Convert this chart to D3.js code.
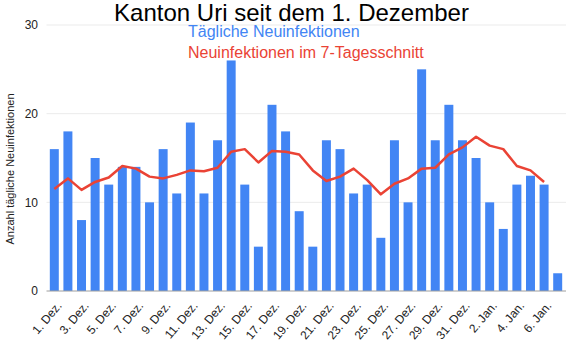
<!DOCTYPE html>
<html>
<head>
<meta charset="utf-8">
<script src="https://cdn.jsdelivr.net/npm/d3@7"></script>
<style>
  html, body { margin: 0; padding: 0; background: #fff; }
  svg { display: block; font-family: "Liberation Sans", Arial, sans-serif; }
</style>
</head>
<body>
<svg id="chart" width="582" height="360"></svg>
<script>
// ---- Data ----
const categories = [
  "1. Dez.","2. Dez.","3. Dez.","4. Dez.","5. Dez.","6. Dez.","7. Dez.","8. Dez.","9. Dez.","10. Dez.",
  "11. Dez.","12. Dez.","13. Dez.","14. Dez.","15. Dez.","16. Dez.","17. Dez.","18. Dez.","19. Dez.","20. Dez.",
  "21. Dez.","22. Dez.","23. Dez.","24. Dez.","25. Dez.","26. Dez.","27. Dez.","28. Dez.","29. Dez.","30. Dez.",
  "31. Dez.","1. Jan.","2. Jan.","3. Jan.","4. Jan.","5. Jan.","6. Jan.","7. Jan."
];
const dailyCases = [
  16, 18, 8, 15, 12, 14, 14, 10, 16, 11,
  19, 11, 17, 26, 12, 5, 21, 18, 9, 5,
  17, 16, 11, 12, 6, 17, 10, 25, 17, 21,
  17, 15, 10, 7, 12, 13, 12, 2
];
const sevenDayAvg = [
  11.5, 12.7, 11.4, 12.3, 12.8, 14.1, 13.8, 12.9, 12.7, 13.1,
  13.6, 13.5, 13.9, 15.7, 16.0, 14.5, 15.8, 15.7, 15.4, 13.6,
  12.4, 12.9, 13.8, 12.5, 10.9, 12.1, 12.7, 13.8, 13.9, 15.4,
  16.2, 17.4, 16.4, 16.0, 14.1, 13.6, 12.3, null
];
const yTicks = [0, 10, 20, 30];
const xTickLabels = categories.filter((d, i) => i % 2 === 0);

const titleText = "Kanton Uri seit dem 1. Dezember";
const legendBars = "Tägliche Neuinfektionen";
const legendLine = "Neuinfektionen im 7-Tagesschnitt";
const yAxisTitle = "Anzahl tägliche Neuinfektionen";

// ---- Layout ----
const svg = d3.select("#chart");
const blue = "#4285F4", red = "#EA4335";
const plotLeft = 46.5, plotRight = 566;

const x = d3.scaleBand().domain(categories).range([47.5, 564.5]).paddingInner(0.34).paddingOuter(0.17);
const y = d3.scaleLinear().domain([0, 30]).range([291, 25]);

// gridlines
svg.append("g").selectAll("line").data(yTicks.filter(d => d !== 0)).join("line")
  .attr("x1", plotLeft).attr("x2", plotRight)
  .attr("y1", d => y(d)).attr("y2", d => y(d))
  .attr("stroke", "#ebebeb").attr("stroke-width", 1);

// y tick labels
svg.append("g").selectAll("text").data(yTicks).join("text")
  .attr("x", 38).attr("y", d => y(d)).attr("dy", "0.35em")
  .attr("text-anchor", "end").attr("font-size", 12).attr("fill", "#222")
  .text(d => d);

// bars
svg.append("g").selectAll("rect").data(dailyCases).join("rect")
  .attr("x", (d, i) => x(categories[i]))
  .attr("width", x.bandwidth())
  .attr("y", d => y(d))
  .attr("height", d => y(0) - y(d))
  .attr("fill", blue);

// baseline axis
svg.append("line").attr("x1", plotLeft).attr("x2", plotRight)
  .attr("y1", y(0)).attr("y2", y(0)).attr("stroke", "#9e9e9e").attr("stroke-width", 1);

// line
const line = d3.line()
  .defined(d => d != null)
  .x((d, i) => x(categories[i]) + x.bandwidth() / 2)
  .y(d => y(d));
svg.append("path").datum(sevenDayAvg)
  .attr("d", line)
  .attr("fill", "none").attr("stroke", red).attr("stroke-width", 2.5)
  .attr("stroke-linejoin", "round");

// x tick labels
svg.append("g").selectAll("text").data(xTickLabels).join("text")
  .attr("transform", d => `translate(${x(d) + x.bandwidth() / 2 + 8},${306}) rotate(-50)`)
  .attr("text-anchor", "end").attr("font-size", 12).attr("fill", "#222")
  .text(d => d);

// title
svg.append("text").attr("x", 291.5).attr("y", 21).attr("text-anchor", "middle")
  .attr("font-size", 24).attr("fill", "#000").text(titleText);

// legend
svg.append("text").attr("x", 188).attr("y", 37).attr("font-size", 16).attr("fill", blue).text(legendBars);
svg.append("text").attr("x", 188).attr("y", 58).attr("font-size", 16).attr("fill", red).text(legendLine);

// y axis title
svg.append("text").attr("transform", "translate(14,169) rotate(-90)")
  .attr("text-anchor", "middle").attr("font-size", 11).attr("fill", "#222")
  .text(yAxisTitle);
</script>
</body>
</html>
